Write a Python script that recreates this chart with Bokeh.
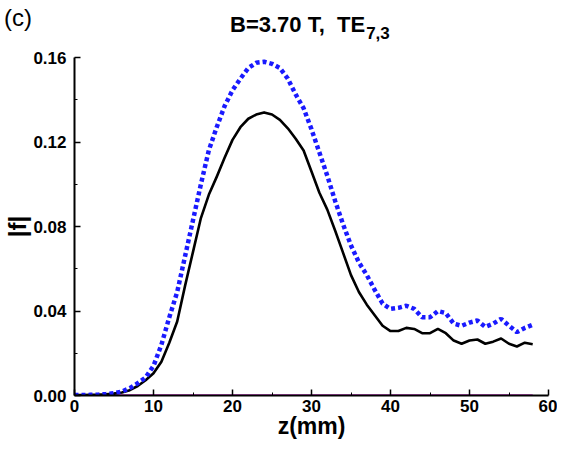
from bokeh.plotting import figure
from bokeh.layouts import column
from bokeh.models import Range1d, FixedTicker, Div, PrintfTickFormatter
from bokeh.embed import file_html
from bokeh.resources import INLINE

# ---- data ----
z_mm = [0, 1, 2, 3, 4, 5, 6, 7, 8, 9, 10, 11, 12, 13, 14, 15, 16, 17, 18, 19,
        20, 21, 22, 23, 24, 25, 26, 27, 28, 29, 30, 31, 32, 33, 34, 35, 36, 37, 38, 39,
        40, 41, 42, 43, 44, 45, 46, 47, 48, 49, 50, 51, 52, 53, 54, 55, 56, 57, 58]

f_black = [0.0002, 0.0002, 0.0003, 0.0004, 0.0006, 0.0009, 0.0014, 0.0025, 0.0045, 0.0072,
           0.0105, 0.0160, 0.0250, 0.0350, 0.0520, 0.0680, 0.0840, 0.0950, 0.1035, 0.1125,
           0.1210, 0.1270, 0.1310, 0.1330, 0.1340, 0.1330, 0.1305, 0.1265, 0.1215, 0.1160,
           0.1060, 0.0960, 0.0880, 0.0780, 0.0675, 0.0570, 0.0490, 0.0430, 0.0380, 0.0330,
           0.0305, 0.0305, 0.0320, 0.0315, 0.0295, 0.0295, 0.0315, 0.0295, 0.0260, 0.0245,
           0.0260, 0.0265, 0.0245, 0.0255, 0.0270, 0.0245, 0.0232, 0.0250, 0.0243]

f_blue = [0.0002, 0.0002, 0.0003, 0.0004, 0.0007, 0.0011, 0.0019, 0.0035, 0.0058, 0.0085,
          0.0140, 0.0240, 0.0370, 0.0490, 0.0660, 0.0830, 0.1000, 0.1160, 0.1270, 0.1370,
          0.1445, 0.1500, 0.1550, 0.1575, 0.1580, 0.1570, 0.1550, 0.1500, 0.1425, 0.1360,
          0.1260, 0.1150, 0.1040, 0.0920, 0.0810, 0.0710, 0.0630, 0.0570, 0.0500, 0.0435,
          0.0410, 0.0415, 0.0425, 0.0410, 0.0370, 0.0370, 0.0400, 0.0390, 0.0340, 0.0330,
          0.0345, 0.0355, 0.0325, 0.0340, 0.0363, 0.0330, 0.0300, 0.0320, 0.0335]

z_small = [0, 10, 20, 30, 35, 40, 45, 50, 52, 58]
f_small = [0.0003, 0.0003, 0.0003, 0.0003, 0.0003, 0.0003, 0.0003, 0.0003, 0.0003, 0.0003]

x_ticks = [0, 10, 20, 30, 40, 50, 60]
x_minor = [5, 15, 25, 35, 45, 55]
y_ticks = [0.0, 0.04, 0.08, 0.12, 0.16]
y_minor = [0.02, 0.06, 0.10, 0.14]

panel_tag = "(c)"
title_main = "B=3.70 T,\u00a0 TE"
title_sub = "7,3"

FONT = "Liberation Sans"
W = 557
TOP_H = 44

# ---- header strip (panel tag and title) ----
head_html = (
    '<div style="position:relative;width:%dpx;height:%dpx;'
    'font-family:\'Liberation Sans\',Arial,sans-serif;color:black;">'
    '<span style="position:absolute;left:4px;top:4px;font-size:24px;'
    'line-height:normal;white-space:nowrap;">%s</span>'
    '<span style="position:absolute;left:230px;top:12px;font-size:22px;font-weight:bold;'
    'line-height:normal;white-space:pre;">%s'
    '<span style="position:relative;top:7px;margin-left:1px;font-size:17px;">%s</span>'
    '</span></div>'
) % (W, TOP_H, panel_tag, title_main, title_sub)
head = Div(text=head_html, width=W, height=TOP_H, margin=0)

# ---- main plot ----
p = figure(width=W, height=441 - TOP_H, output_backend="svg", toolbar_location=None,
           x_range=Range1d(0, 60), y_range=Range1d(0, 0.16),
           min_border_left=74, min_border_right=9, min_border_top=13,
           min_border_bottom=0)
p.outline_line_color = None
p.xgrid.visible = False
p.ygrid.visible = False

p.line(z_small, f_small, line_color="#cc33cc", line_width=1.2)
p.line(z_mm, f_black, line_color="black", line_width=2.6, line_join="round")
p.line(z_mm, f_blue, line_color="#1a1aff", line_width=4.5, line_dash="4 3")

for ax in (p.xaxis[0], p.yaxis[0]):
    ax.axis_line_width = 2
    ax.axis_line_color = "black"
    ax.major_tick_in = 6
    ax.major_tick_out = 0
    ax.minor_tick_in = 3
    ax.minor_tick_out = 0
    ax.major_tick_line_color = "black"
    ax.minor_tick_line_color = "black"
    ax.major_tick_line_width = 1.5
    ax.major_label_text_font = FONT
    ax.major_label_text_font_style = "bold"
    ax.major_label_text_font_size = "17px"
    ax.major_label_text_color = "black"
    ax.axis_label_text_font = FONT
    ax.axis_label_text_font_style = "bold"
    ax.axis_label_text_color = "black"

p.xaxis.axis_label_text_font_size = "23px"
p.yaxis.axis_label_text_font_size = "24px"
p.xaxis.ticker = FixedTicker(ticks=x_ticks, minor_ticks=x_minor)
p.yaxis.ticker = FixedTicker(ticks=y_ticks, minor_ticks=y_minor)
p.yaxis.formatter = PrintfTickFormatter(format="%.2f")
p.xaxis.axis_label = "z(mm)"
p.yaxis.axis_label = "|f|"
p.xaxis.major_label_standoff = 4
p.xaxis.axis_label_standoff = -2
p.yaxis.major_label_standoff = 8
p.yaxis.axis_label_standoff = -1

layout = column(head, p, spacing=0)
open("out.html", "w").write(file_html(layout, INLINE))
